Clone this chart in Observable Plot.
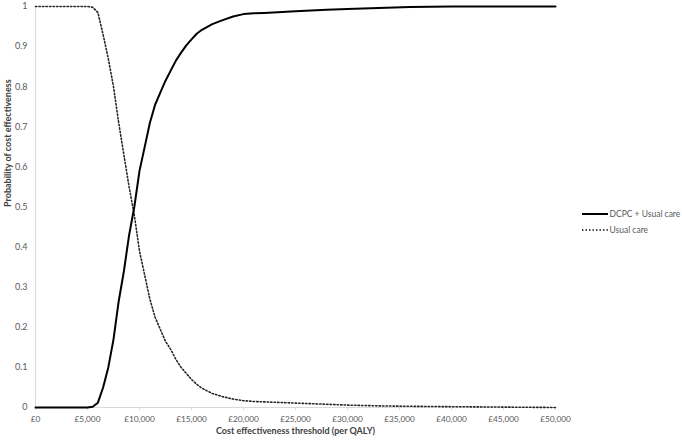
<!DOCTYPE html>
<html>
<head>
<meta charset="utf-8">
<script src="https://cdn.jsdelivr.net/npm/d3@7"></script>
<script src="https://cdn.jsdelivr.net/npm/@observablehq/plot@0.6"></script>
<style>
  html, body { margin: 0; padding: 0; background: white; }
  #wrap { position: relative; width: 682px; height: 440px; font-family: Lato, "Open Sans", sans-serif; }
  #legend { position: absolute; left: 582px; top: 206px; font-size: 8.5px; color: #595959; line-height: 16px; }
  #legend div { display: flex; align-items: center; white-space: nowrap; height: 16px; }
  #legend svg { margin-right: 1.5px; }
</style>
</head>
<body>
<div id="wrap"><div id="chart"></div><div id="legend"></div></div>
<script>
const seriesNames = ["DCPC + Usual care", "Usual care"];
const thresholds = [0, 5000, 5500, 6000, 6500, 7000, 7500, 8000, 8500, 9000, 9500, 10000, 10500, 11000, 11500, 12000, 12500, 13000, 13500, 14000, 14500, 15000, 15500, 16000, 17000, 18000, 19000, 20000, 21000, 22000, 25000, 28000, 30000, 33000, 36000, 40000, 45000, 50000];
const dcpc = [0, 0, 0.002, 0.012, 0.05, 0.10, 0.17, 0.265, 0.34, 0.43, 0.50, 0.59, 0.65, 0.71, 0.755, 0.785, 0.815, 0.84, 0.865, 0.885, 0.903, 0.918, 0.932, 0.942, 0.956, 0.966, 0.975, 0.981, 0.983, 0.984, 0.988, 0.992, 0.994, 0.996, 0.999, 1, 1, 1];
const usual = [1, 1, 0.998, 0.985, 0.93, 0.87, 0.80, 0.71, 0.63, 0.55, 0.48, 0.39, 0.33, 0.27, 0.225, 0.195, 0.165, 0.145, 0.12, 0.10, 0.085, 0.07, 0.058, 0.048, 0.035, 0.027, 0.021, 0.017, 0.015, 0.014, 0.011, 0.008, 0.006, 0.004, 0.003, 0.002, 0.001, 0];
const xTicks = [0, 5000, 10000, 15000, 20000, 25000, 30000, 35000, 40000, 45000, 50000];
const yTicks = [0, 0.1, 0.2, 0.3, 0.4, 0.5, 0.6, 0.7, 0.8, 0.9, 1];
const xTitle = "Cost effectiveness threshold (per QALY)";
const yTitle = "Probability of cost effectiveness";

const rowsA = thresholds.map((t, i) => ({t, p: dcpc[i]}));
const rowsB = thresholds.map((t, i) => ({t, p: usual[i]}));
const fmt = d => "£" + d3.format(",")(d);
const yFmt = d3.format("~g");

const chart = Plot.plot({
  width: 682, height: 440,
  marginLeft: 35, marginRight: 127, marginTop: 6, marginBottom: 33,
  style: {fontFamily: "Lato, 'Open Sans', sans-serif", fontSize: "8.3px", color: "#595959", background: "white"},
  x: {domain: [0, 50000]},
  y: {domain: [0, 1]},
  marks: [
    Plot.ruleY([0], {stroke: "#d9d9d9"}),
    Plot.ruleX([0], {stroke: "#d9d9d9"}),
    Plot.axisX({ticks: xTicks, tickFormat: fmt, tickSize: 3, stroke: "#d9d9d9", strokeOpacity: 1, tickPadding: 6, fill: "#595959", label: null}),
    Plot.axisY({ticks: yTicks, tickFormat: yFmt, tickSize: 0, tickPadding: 8, fill: "#595959", fontSize: 9, label: null}),
    Plot.line(rowsB, {x: "t", y: "p", stroke: "#262626", strokeWidth: 1.6, strokeDasharray: "1.4,2.1"}),
    Plot.line(rowsA, {x: "t", y: "p", stroke: "black", strokeWidth: 2}),
    Plot.text([xTitle], {frameAnchor: "bottom", dy: 26, fontWeight: "bold", fill: "#404040", fontSize: 9}),
    Plot.text([yTitle], {frameAnchor: "left", dx: -27, rotate: -90, fontWeight: "bold", fill: "#404040", fontSize: 9})
  ]
});
document.getElementById("chart").appendChild(chart);

const legend = document.getElementById("legend");
seriesNames.forEach((name, i) => {
  const row = document.createElement("div");
  const dash = i === 0 ? "" : 'stroke-dasharray="1.4,2.1"';
  const sw = i === 0 ? 2 : 1.6;
  row.innerHTML = `<svg width="26" height="6"><line x1="0" y1="3" x2="26" y2="3" stroke="black" stroke-width="${sw}" ${dash}/></svg><span>${name}</span>`;
  legend.appendChild(row);
});
</script>
</body>
</html>
